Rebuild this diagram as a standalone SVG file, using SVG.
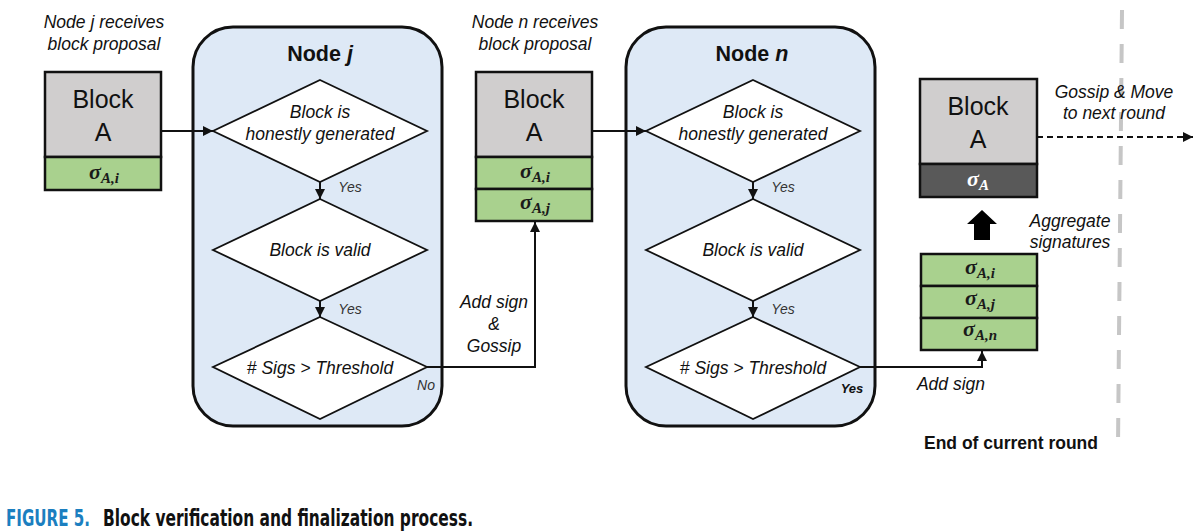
<svg xmlns="http://www.w3.org/2000/svg" width="1200" height="531" viewBox="0 0 1200 531">
<style>
.panel{fill:#dee9f6;stroke:#111;stroke-width:3}
.dia{fill:#fff;stroke:#111;stroke-width:1.8}
.grey{fill:#d0cece;stroke:#111;stroke-width:2.5}
.green{fill:#a9d18e;stroke:#111;stroke-width:2.5}
.dark{fill:#595959;stroke:#111;stroke-width:2.5}
.ln{fill:none;stroke:#111;stroke-width:2}
.t{font-family:"Liberation Sans",Arial,sans-serif;fill:#111;text-anchor:middle}
.it{font-style:italic;font-size:17.5px}
.blk{font-size:25px}
.yes{font-style:italic;font-size:14px;fill:#333}
.ttl{font-weight:bold;font-size:21.5px}
.sig{font-family:"Liberation Serif","Times New Roman",serif;font-weight:bold;font-style:italic;font-size:22px;fill:#1a1a1a;text-anchor:middle}
.sub{font-size:15px}
</style>
<defs>
<marker id="ah" viewBox="0 0 10 10" refX="10" refY="5" markerWidth="10" markerHeight="10" markerUnits="userSpaceOnUse" orient="auto">
<path d="M0,0 L10,5 L0,10 z" fill="#111"/>
</marker>
</defs>

<g id="label-j" class="t it">
<text x="104" y="28">Node j receives</text>
<text x="104" y="50">block proposal</text>
</g>
<g id="label-n" class="t it">
<text x="535" y="28">Node n receives</text>
<text x="535" y="50">block proposal</text>
</g>

<g id="block-left">
<rect class="grey" x="45" y="72" width="116" height="85"/>
<rect class="green" x="45" y="157" width="116" height="33"/>
<text class="t blk" x="103" y="108">Block</text>
<text class="t blk" x="103" y="141">A</text>
<text class="sig" x="104" y="179">σ<tspan class="sub" dy="4">A,i</tspan></text>
</g>

<g id="node-j">
<rect class="panel" x="193" y="27" width="249" height="399" rx="40"/>
<text class="t ttl" x="320" y="61">Node <tspan font-style="italic">j</tspan></text>
<polygon class="dia" points="320,80 427,131 320,182 213,131"/>
<text class="t it" x="320" y="118">Block is</text>
<text class="t it" x="320" y="140">honestly generated</text>
<polygon class="dia" points="320,199 427,250 320,301 213,250"/>
<text class="t it" x="320" y="256">Block is valid</text>
<polygon class="dia" points="320,317 427,367 320,419 213,367"/>
<text class="t it" x="320" y="374"># Sigs &gt; Threshold</text>
</g>

<g id="block-mid">
<rect class="grey" x="476" y="72" width="116" height="85"/>
<rect class="green" x="476" y="157" width="116" height="32"/>
<rect class="green" x="476" y="189" width="116" height="32"/>
<text class="t blk" x="534" y="108">Block</text>
<text class="t blk" x="534" y="141">A</text>
<text class="sig" x="535" y="178">σ<tspan class="sub" dy="4">A,i</tspan></text>
<text class="sig" x="535" y="209">σ<tspan class="sub" dy="4">A,j</tspan></text>
</g>

<g id="node-n">
<rect class="panel" x="626" y="27" width="249" height="399" rx="40"/>
<text class="t ttl" x="752" y="61">Node <tspan font-style="italic">n</tspan></text>
<polygon class="dia" points="753,80 860,131 753,182 646,131"/>
<text class="t it" x="753" y="118">Block is</text>
<text class="t it" x="753" y="140">honestly generated</text>
<polygon class="dia" points="753,199 860,250 753,301 646,250"/>
<text class="t it" x="753" y="256">Block is valid</text>
<polygon class="dia" points="753,317 860,367 753,419 646,367"/>
<text class="t it" x="753" y="374"># Sigs &gt; Threshold</text>
</g>

<g id="sig-stack">
<rect class="green" x="921" y="254" width="116" height="32"/>
<rect class="green" x="921" y="286" width="116" height="32"/>
<rect class="green" x="921" y="318" width="116" height="32"/>
<text class="sig" x="980" y="274">σ<tspan class="sub" dy="4">A,i</tspan></text>
<text class="sig" x="980" y="305">σ<tspan class="sub" dy="4">A,j</tspan></text>
<text class="sig" x="980" y="336">σ<tspan class="sub" dy="4">A,n</tspan></text>
</g>

<g id="block-final">
<rect class="grey" x="920" y="79" width="117" height="85"/>
<rect class="dark" x="920" y="164" width="117" height="33"/>
<text class="t blk" x="978" y="115">Block</text>
<text class="t blk" x="978" y="148">A</text>
<text class="sig" x="978" y="186" style="fill:#fff">σ<tspan class="sub" dy="4">A</tspan></text>
</g>

<g id="round-boundary">
<line x1="1122" y1="10" x2="1118" y2="446" stroke="#c6c6c6" stroke-width="4" stroke-dasharray="19,15"/>
<text class="t" x="1011" y="449" font-weight="bold" font-size="17.5">End of current round</text>
</g>

<g id="connectors">
<line class="ln" x1="161" y1="131" x2="213" y2="131" marker-end="url(#ah)"/>
<line class="ln" x1="320" y1="182" x2="320" y2="199" marker-end="url(#ah)"/>
<line class="ln" x1="320" y1="301" x2="320" y2="317" marker-end="url(#ah)"/>
<polyline class="ln" points="427,367 535,367 535,222" marker-end="url(#ah)"/>
<line class="ln" x1="592" y1="131" x2="646" y2="131" marker-end="url(#ah)"/>
<line class="ln" x1="753" y1="182" x2="753" y2="199" marker-end="url(#ah)"/>
<line class="ln" x1="753" y1="301" x2="753" y2="317" marker-end="url(#ah)"/>
<polyline class="ln" points="860,367 982,367 982,351" marker-end="url(#ah)"/>
<line class="ln" x1="1037" y1="137" x2="1193" y2="137" stroke-dasharray="6,4" marker-end="url(#ah)"/>
<polygon points="982,210 997,224 990,224 990,240 974,240 974,224 967,224" fill="#000"/>
<text class="t yes" x="350" y="192">Yes</text>
<text class="t yes" x="350" y="314">Yes</text>
<text class="t yes" x="426" y="390" font-size="13">No</text>
<text class="t yes" x="783" y="192">Yes</text>
<text class="t yes" x="783" y="314">Yes</text>
<text class="t" x="852" y="393" font-weight="bold" font-style="italic" font-size="13">Yes</text>
<g class="t it">
<text x="494" y="308">Add sign</text>
<text x="494" y="330">&amp;</text>
<text x="494" y="352">Gossip</text>
<text x="951" y="390">Add sign</text>
<text x="1070" y="227">Aggregate</text>
<text x="1070" y="248">signatures</text>
<text x="1114" y="98">Gossip &amp; Move</text>
<text x="1114" y="119">to next round</text>
</g>
</g>

<g id="caption" font-family="'DejaVu Sans Condensed','DejaVu Sans',sans-serif" font-weight="bold" font-size="23">
<g transform="translate(6,526) scale(0.72,1)">
<text x="0" y="0" fill="#1b7fc0" textLength="116.7" lengthAdjust="spacingAndGlyphs">FIGURE 5.</text>
</g>
<g transform="translate(103,526) scale(0.72,1)">
<text x="0" y="0" fill="#111" textLength="513.9" lengthAdjust="spacingAndGlyphs">Block verification and finalization process.</text>
</g>
</g>
</svg>
